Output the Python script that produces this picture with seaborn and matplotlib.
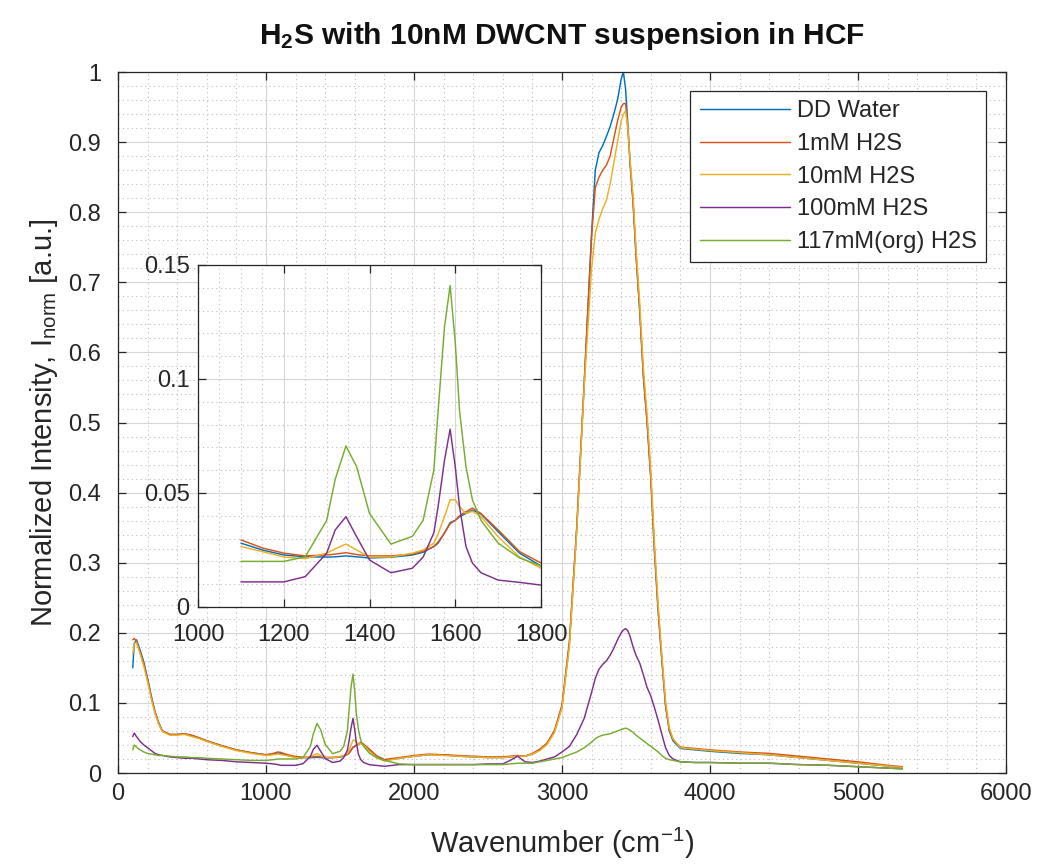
import numpy as np
import pandas as pd
import matplotlib
matplotlib.use("Agg")
import matplotlib.pyplot as plt
from matplotlib.ticker import MultipleLocator, FuncFormatter
import seaborn as sns

# ---------------- data ----------------
wn_low = [100, 110, 125, 150, 175, 200, 225, 250, 275, 300, 350, 400, 450, 500, 550,
          600, 700, 800, 900, 1000, 1050, 1080]
wn_inset = [1100, 1150, 1200, 1250, 1300, 1320, 1345, 1370, 1400, 1450, 1500, 1525, 1550,
            1560, 1575, 1588, 1600, 1610, 1625, 1640, 1660, 1700, 1750, 1800]
wn_mid = [1900, 2000, 2100, 2200, 2300, 2400, 2500, 2600, 2650, 2700, 2750, 2800, 2850,
          2900, 2950]
wn_peak = [3000, 3050, 3100, 3150, 3200, 3225, 3250, 3275, 3300, 3325, 3350, 3375, 3400,
           3415, 3430, 3445, 3460, 3480, 3500, 3525, 3550, 3575, 3600, 3625, 3650, 3675,
           3700, 3725, 3750]
wn_tail = [3800, 3900, 4000, 4200, 4400, 4600, 4800, 5000, 5200, 5300]
wavenumber = wn_low + wn_inset + wn_mid + wn_peak + wn_tail

dd_water = (
    [0.150, 0.185, 0.190, 0.175, 0.158, 0.135, 0.110, 0.088, 0.072, 0.060, 0.055, 0.055,
     0.056, 0.053, 0.050, 0.046, 0.039, 0.033, 0.029, 0.026, 0.027, 0.029]
    + [0.028, 0.025, 0.0228, 0.022, 0.0219, 0.022, 0.0224, 0.022, 0.0215, 0.0218, 0.0228,
       0.024, 0.0265, 0.028, 0.0325, 0.037, 0.038, 0.0396, 0.041, 0.0425, 0.0408, 0.033,
       0.0236, 0.018]
    + [0.021, 0.024, 0.026, 0.026, 0.024, 0.023, 0.022, 0.022, 0.023, 0.024, 0.024, 0.027,
       0.033, 0.042, 0.060]
    + [0.095, 0.185, 0.350, 0.555, 0.770, 0.860, 0.885, 0.895, 0.908, 0.922, 0.940, 0.960,
       0.990, 1.000, 0.975, 0.925, 0.870, 0.815, 0.740, 0.660, 0.565, 0.500, 0.420, 0.315,
       0.230, 0.160, 0.095, 0.060, 0.046]
    + [0.035, 0.033, 0.031, 0.028, 0.026, 0.022, 0.018, 0.014, 0.010, 0.008]
)
h2s_1mm = (
    [0.190, 0.192, 0.188, 0.172, 0.155, 0.133, 0.108, 0.087, 0.071, 0.060, 0.055, 0.055,
     0.056, 0.054, 0.050, 0.046, 0.039, 0.033, 0.029, 0.026, 0.028, 0.030]
    + [0.0294, 0.0259, 0.0236, 0.0224, 0.0228, 0.0232, 0.0238, 0.0230, 0.0224, 0.0224,
       0.0232, 0.0245, 0.0265, 0.0285, 0.0325, 0.0365, 0.038, 0.040, 0.0418, 0.0434, 0.041,
       0.0338, 0.0243, 0.0193]
    + [0.022, 0.025, 0.027, 0.026, 0.025, 0.024, 0.023, 0.023, 0.024, 0.025, 0.024, 0.028,
       0.034, 0.043, 0.061]
    + [0.097, 0.187, 0.352, 0.557, 0.765, 0.835, 0.850, 0.860, 0.867, 0.880, 0.905, 0.930,
       0.950, 0.955, 0.955, 0.920, 0.870, 0.815, 0.740, 0.660, 0.567, 0.502, 0.422, 0.318,
       0.232, 0.162, 0.097, 0.062, 0.048]
    + [0.037, 0.035, 0.033, 0.030, 0.028, 0.024, 0.020, 0.016, 0.011, 0.009]
)
h2s_10mm = (
    [0.170, 0.185, 0.186, 0.170, 0.152, 0.130, 0.106, 0.085, 0.070, 0.059, 0.054, 0.054,
     0.055, 0.052, 0.049, 0.045, 0.038, 0.032, 0.028, 0.025, 0.026, 0.027]
    + [0.0265, 0.0243, 0.0219, 0.0212, 0.0236, 0.0255, 0.0276, 0.025, 0.0219, 0.0219,
       0.0236, 0.025, 0.028, 0.032, 0.0396, 0.047, 0.047, 0.044, 0.041, 0.042, 0.0396,
       0.0308, 0.0219, 0.017]
    + [0.021, 0.024, 0.026, 0.025, 0.024, 0.023, 0.022, 0.022, 0.023, 0.024, 0.024, 0.027,
       0.032, 0.041, 0.058]
    + [0.093, 0.180, 0.345, 0.550, 0.720, 0.770, 0.790, 0.805, 0.817, 0.840, 0.870, 0.900,
       0.930, 0.940, 0.945, 0.920, 0.875, 0.825, 0.750, 0.672, 0.578, 0.512, 0.432, 0.328,
       0.240, 0.168, 0.102, 0.065, 0.049]
    + [0.036, 0.034, 0.032, 0.029, 0.026, 0.022, 0.018, 0.014, 0.010, 0.008]
)
h2s_100mm = (
    [0.052, 0.057, 0.052, 0.045, 0.040, 0.036, 0.032, 0.028, 0.026, 0.025, 0.023, 0.022,
     0.021, 0.021, 0.020, 0.019, 0.018, 0.016, 0.015, 0.014, 0.013, 0.012]
    + [0.011, 0.011, 0.011, 0.0133, 0.0236, 0.0338, 0.0396, 0.0308, 0.0206, 0.015, 0.017,
       0.0219, 0.0325, 0.044, 0.0645, 0.078, 0.0615, 0.044, 0.0265, 0.0193, 0.015, 0.0118,
       0.0108, 0.0096]
    + [0.012, 0.012, 0.012, 0.012, 0.012, 0.012, 0.013, 0.013, 0.018, 0.024, 0.016, 0.015,
       0.017, 0.020, 0.023]
    + [0.030, 0.038, 0.055, 0.078, 0.115, 0.135, 0.148, 0.155, 0.160, 0.168, 0.178, 0.190,
       0.200, 0.204, 0.206, 0.203, 0.195, 0.180, 0.168, 0.157, 0.140, 0.122, 0.110, 0.093,
       0.075, 0.055, 0.036, 0.025, 0.020]
    + [0.016, 0.015, 0.015, 0.014, 0.014, 0.012, 0.011, 0.009, 0.007, 0.006]
)
h2s_117mm_org = (
    [0.033, 0.040, 0.037, 0.033, 0.030, 0.028, 0.027, 0.026, 0.025, 0.025, 0.024, 0.023,
     0.023, 0.022, 0.022, 0.021, 0.020, 0.019, 0.018, 0.018, 0.019, 0.020]
    + [0.020, 0.020, 0.020, 0.022, 0.038, 0.056, 0.0706, 0.0615, 0.041, 0.0276, 0.031,
       0.038, 0.060, 0.086, 0.123, 0.141, 0.116, 0.086, 0.0615, 0.047, 0.038, 0.028,
       0.0215, 0.018]
    + [0.013, 0.012, 0.012, 0.012, 0.012, 0.012, 0.012, 0.012, 0.013, 0.014, 0.014, 0.014,
       0.016, 0.018, 0.020]
    + [0.022, 0.026, 0.030, 0.036, 0.044, 0.049, 0.052, 0.054, 0.055, 0.056, 0.058, 0.060,
       0.062, 0.063, 0.064, 0.063, 0.061, 0.058, 0.054, 0.050, 0.046, 0.042, 0.038, 0.034,
       0.030, 0.025, 0.021, 0.019, 0.018]
    + [0.016, 0.015, 0.015, 0.014, 0.014, 0.012, 0.011, 0.009, 0.007, 0.006]
)

series_names = ["DD Water", "1mM H2S", "10mM H2S", "100mM H2S", "117mM(org) H2S"]
series_values = [dd_water, h2s_1mm, h2s_10mm, h2s_100mm, h2s_117mm_org]
colors = ["#0072BD", "#D95319", "#EDB120", "#7E2F8E", "#77AC30"]

main_xticks = [0, 1000, 2000, 3000, 4000, 5000, 6000]
main_yticks = [0, 0.1, 0.2, 0.3, 0.4, 0.5, 0.6, 0.7, 0.8, 0.9, 1]
inset_xticks = [1000, 1200, 1400, 1600, 1800]
inset_yticks = [0, 0.05, 0.1, 0.15]

frames = []
for name, vals in zip(series_names, series_values):
    assert len(vals) == len(wavenumber), (name, len(vals), len(wavenumber))
    frames.append(pd.DataFrame({"wavenumber": wavenumber, "intensity": vals, "series": name}))
df = pd.concat(frames, ignore_index=True)
df_inset = df[(df["wavenumber"] >= 1100) & (df["wavenumber"] <= 1800)]

# ---------------- style ----------------
sns.set_theme(style="white")
plt.rcParams["font.family"] = ["Liberation Sans", "DejaVu Sans"]
plt.rcParams["mathtext.fontset"] = "custom"
plt.rcParams["mathtext.rm"] = "Liberation Sans"
plt.rcParams["mathtext.it"] = "Liberation Sans:italic"
plt.rcParams["mathtext.bf"] = "Liberation Sans:bold"

dark = "#262626"
palette = dict(zip(series_names, colors))
fmt = FuncFormatter(lambda v, p: "%g" % round(v, 6))
TICK_FS = 17
LW = 1.05


def style_axes(ax, xmaj, xmin, ymaj, ymin, xpad, ypad):
    ax.xaxis.set_major_locator(MultipleLocator(xmaj))
    ax.xaxis.set_minor_locator(MultipleLocator(xmin))
    ax.yaxis.set_major_locator(MultipleLocator(ymaj))
    ax.yaxis.set_minor_locator(MultipleLocator(ymin))
    ax.xaxis.set_major_formatter(fmt)
    ax.yaxis.set_major_formatter(fmt)
    ax.grid(True, which="major", color="#d6d6d6", linewidth=0.8, linestyle="-")
    ax.grid(True, which="minor", color="#bdbdbd", linewidth=0.8, linestyle=(0, (1, 3)))
    ax.set_axisbelow(True)
    ax.tick_params(which="major", direction="in", length=6, width=0.9, colors=dark,
                   labelsize=TICK_FS, top=True, right=True, bottom=True, left=True,
                   labelcolor=dark)
    ax.tick_params(axis="x", which="major", pad=xpad)
    ax.tick_params(axis="y", which="major", pad=ypad)
    ax.tick_params(which="minor", length=0, top=False, right=False, bottom=False, left=False)
    for s in ax.spines.values():
        s.set_color(dark)
        s.set_linewidth(0.9)
    ax.set_facecolor("white")


fig = plt.figure(figsize=(10.44, 8.67), dpi=100)
ax = fig.add_axes([0.1130, 0.1084, 0.8506, 0.8085])

sns.lineplot(data=df, x="wavenumber", y="intensity", hue="series", hue_order=series_names,
             palette=palette, estimator=None, sort=False, linewidth=LW, ax=ax)
ax.set_xlim(0, 6000)
ax.set_ylim(0, 1)
style_axes(ax, 1000, 200, 0.1, 0.02, xpad=7, ypad=12)
ax.set_xticks(main_xticks)
ax.set_yticks(main_yticks)
ax.set_xlabel("Wavenumber (cm$^{-1}$)", fontsize=21, color=dark, labelpad=15)
ax.set_ylabel("Normalized Intensity, I$_{\\mathrm{norm}}$ [a.u.]", fontsize=21, color=dark,
              labelpad=6)
ax.set_title("H$_\\mathbf{2}$S with 10nM DWCNT suspension in HCF", fontsize=21.5,
             fontweight="bold", color="#111111", pad=20)

old = ax.get_legend()
handles = old.legend_handles
labels = [t.get_text() for t in old.get_texts()]
old.remove()
leg = ax.legend(handles, labels, loc="upper right", bbox_to_anchor=(0.9775, 0.973),
                fontsize=17, frameon=True, fancybox=False, framealpha=1,
                edgecolor=dark, handlelength=3.8, handletextpad=0.3, labelspacing=0.45,
                borderpad=0.4, borderaxespad=0)
leg.get_frame().set_linewidth(0.9)
for h in leg.legend_handles:
    h.set_linewidth(LW)
for t in leg.get_texts():
    t.set_color(dark)

# inset
axin = fig.add_axes([0.1897, 0.2999, 0.3285, 0.3945])
sns.lineplot(data=df_inset, x="wavenumber", y="intensity", hue="series",
             hue_order=series_names, palette=palette, estimator=None, sort=False,
             linewidth=LW, legend=False, ax=axin)
axin.set_xlim(1000, 1800)
axin.set_ylim(0, 0.15)
style_axes(axin, 200, 50, 0.05, 0.01, xpad=12, ypad=6)
axin.set_xticks(inset_xticks)
axin.set_yticks(inset_yticks)
axin.set_xlabel("")
axin.set_ylabel("")

fig.savefig("out.png", dpi=100, facecolor="white")
